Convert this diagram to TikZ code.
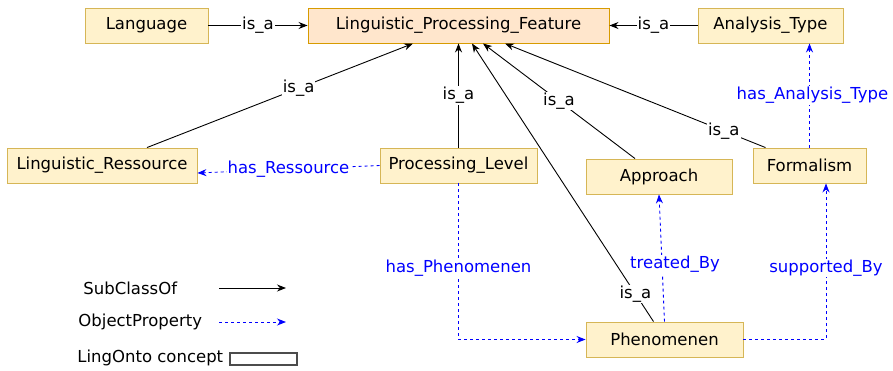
\documentclass[tikz,border=0pt]{standalone}
\usepackage{fontspec}
\setmainfont{DejaVu Sans}
\usetikzlibrary{arrows.meta}

\definecolor{conceptfill}{HTML}{FFF2CC}
\definecolor{conceptline}{HTML}{D6B656}
\definecolor{rootfill}{HTML}{FFE6CC}
\definecolor{rootline}{HTML}{D79B00}
\definecolor{propblue}{HTML}{0000FF}

\begin{document}
\begin{tikzpicture}[x=1pt,y=-1pt,font=\fontsize{16.5}{19}\selectfont,line width=0.9pt,
  concept/.style={draw=conceptline,fill=conceptfill,minimum height=35pt,inner sep=0pt},
  root/.style={concept,draw=rootline,fill=rootfill},
  isa/.style={-{Stealth[length=9pt,width=7pt]},black},
  objprop/.style={-{Stealth[length=9pt,width=7pt]},propblue,dash pattern=on 3pt off 3pt},
  isalbl/.style={fill=white,inner sep=1pt,text=black},
  proplbl/.style={fill=white,inner sep=1pt,text=propblue}]
\useasboundingbox (0,0) rectangle (893,370);
% concepts
\node[root,minimum width=301pt] (LPF) at (458.5,25.5) {Linguistic\_Processing\_Feature};
\node[concept,minimum width=123pt] (Lang) at (146.5,25.5) {Language};
\node[concept,minimum width=145pt] (AT) at (770.5,25.5) {Analysis\_Type};
\node[concept,minimum width=190pt] (LR) at (102,165.5) {Linguistic\_Ressource};
\node[concept,minimum width=157pt] (PL) at (458.5,165.5) {Processing\_Level};
\node[concept,minimum width=146pt] (App) at (659,176.5) {Approach};
\node[concept,minimum width=113pt] (Form) at (809.5,165.5) {Formalism};
\node[concept,minimum width=157pt] (Phen) at (664.5,339.5) {Phenomenen};
% is_a links
\draw[isa] (Lang) -- (LPF) node[midway,isalbl] {is\_a};
\draw[isa] (AT) -- (LPF) node[midway,isalbl] {is\_a};
\draw[isa] (LR.north) ++(45,0) coordinate (lrtop) -- (413,43.5) coordinate (lpf1) node[pos=0.57,isalbl] {is\_a};
\draw[isa] (PL.north) -- (PL.north |- LPF.south) node[midway,isalbl] {is\_a};
\draw[isa] (App.north) ++(-24,0) coordinate (apptop) -- (483,43.5) node[midway,isalbl] {is\_a};
\draw[isa] (Form.north) ++(-44,0) coordinate (formtop) -- (505,43.5) node[pos=0.16,isalbl] {is\_a};
\draw[isa] (Phen.north) ++(-11,0) coordinate (phentop) -- (472,43.5) node[pos=0.1,isalbl] {is\_a};
% object properties
\draw[objprop] (PL.west) -- (LR.east |- 0,173) node[midway,proplbl] {has\_Ressource};
\draw[objprop] (PL.south) |- (Phen.west) node[pos=0.27,proplbl] {has\_Phenomenen};
\draw[objprop] (Phen.north) -- (App.south) node[pos=0.45,proplbl,xshift=13pt] {treated\_By};
\draw[objprop] (Phen.east) -| (Form.south -| 826,0) node[pos=0.73,proplbl] {supported\_By};
\draw[objprop] (Form.north) -- (Form.north |- AT.south) node[midway,proplbl,xshift=3pt] {has\_Analysis\_Type};
% legend
\node[anchor=west,inner sep=0pt] (legSub) at (83,288) {SubClassOf};
\node[anchor=west,inner sep=0pt] (legObj) at (78,322) {ObjectProperty};
\node[anchor=west,inner sep=0pt] (legCon) at (77,358) {LingOnto concept};
\coordinate (subA) at (219,288);
\coordinate (subB) at (286,288);
\coordinate (objA) at (219,322);
\coordinate (objB) at (286,322);
\draw[isa] (subA) -- (subB);
\draw[objprop] (objA) -- (objB);
\draw[draw=black!70,fill=white,line width=1.2pt] (230,353) rectangle (297,365);
\end{tikzpicture}
\end{document}
